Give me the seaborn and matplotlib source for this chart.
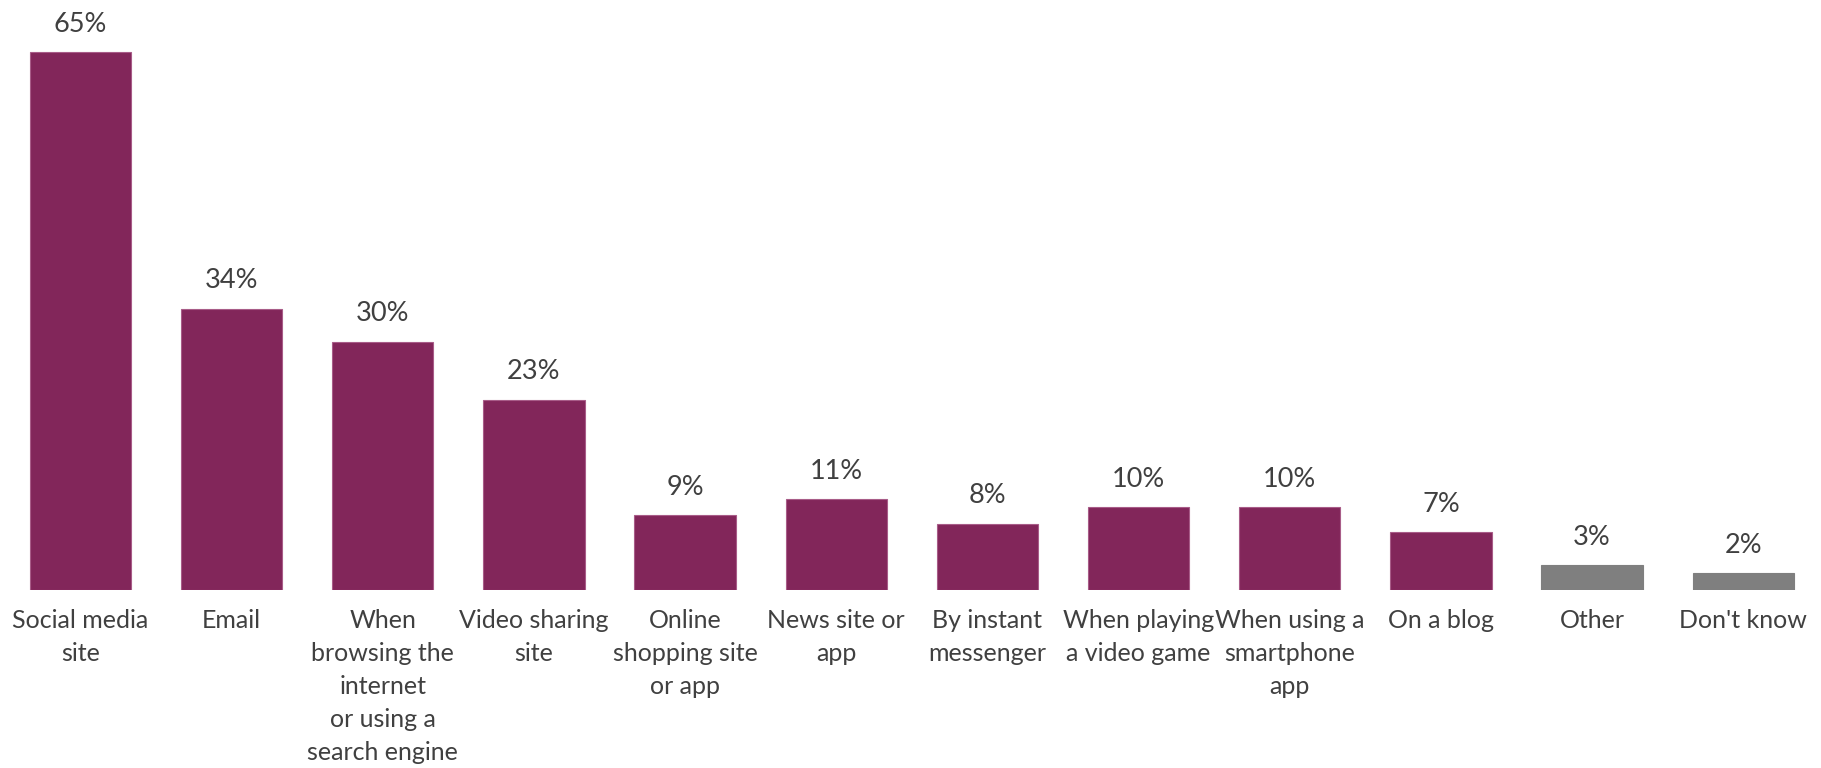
import matplotlib
matplotlib.use("Agg")
import matplotlib.pyplot as plt
import seaborn as sns
import pandas as pd

categories = [
    "Social media\nsite",
    "Email",
    "When\nbrowsing the\ninternet\nor using a\nsearch engine",
    "Video sharing\nsite",
    "Online\nshopping site\nor app",
    "News site or\napp",
    "By instant\nmessenger",
    "When playing\na video game",
    "When using a\nsmartphone\napp",
    "On a blog",
    "Other",
    "Don't know",
]
values = [65, 34, 30, 23, 9, 11, 8, 10, 10, 7, 3, 2]
bar_colors = ["#82265A"] * 10 + ["#7F7F7F"] * 2
edge_colors = ["#A85C88"] * 10 + ["#7F7F7F"] * 2

sns.set_theme(style="white")
plt.rcParams["font.family"] = ["Lato", "DejaVu Sans"]

df = pd.DataFrame({"category": categories, "value": values})

fig = plt.figure(figsize=(18.21, 7.68), dpi=100)
ax = fig.add_axes([0.0027, 0.2318, 0.9961, 0.7544])

sns.barplot(data=df, x="category", y="value", hue="category",
            palette=bar_colors, saturation=1, legend=False, width=0.67,
            linewidth=0.8, ax=ax)

for patch, v, ec in zip(ax.patches, values, edge_colors):
    patch.set_edgecolor(ec)
    ax.annotate(f"{v}%", (patch.get_x() + patch.get_width() / 2, patch.get_height()),
                xytext=(0, 11), textcoords="offset points",
                ha="center", va="bottom", fontsize=19.5, color="#404040")

ax.set_xlim(-0.5, len(categories) - 0.5)
ax.set_ylim(0, 70)
ax.set_xlabel("")
ax.set_ylabel("")
ax.set_yticks([])
ax.tick_params(axis="x", length=0, pad=14, labelsize=18, labelcolor="#404040")
for lbl in ax.get_xticklabels():
    lbl.set_linespacing(1.52)
for s in ax.spines.values():
    s.set_visible(False)

fig.savefig("out.png", dpi=100)
